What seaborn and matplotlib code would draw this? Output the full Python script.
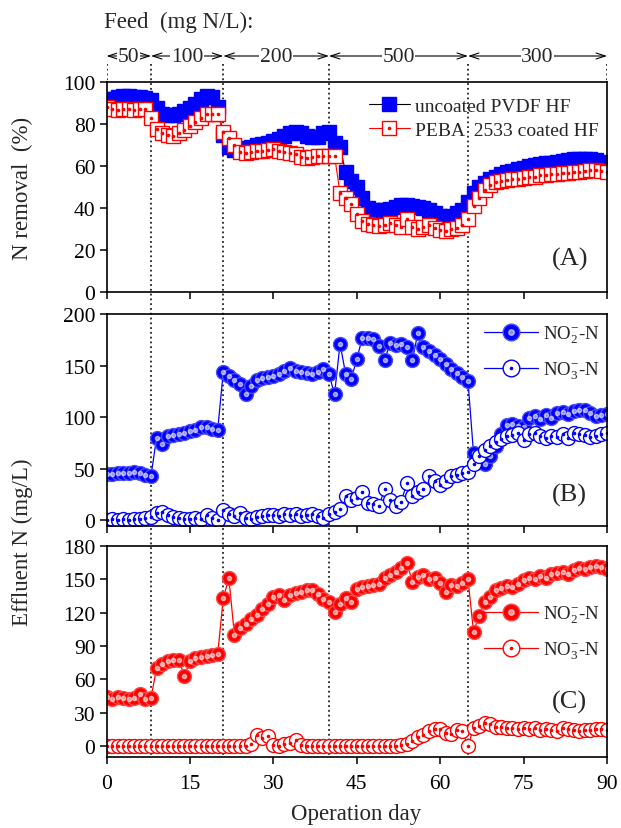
import matplotlib
matplotlib.use("Agg")
import matplotlib.pyplot as plt
import seaborn as sns
import pandas as pd
from matplotlib.lines import Line2D
from matplotlib.legend_handler import HandlerTuple

# ---------------- data ----------------
days = [0, 1, 2, 3, 4, 5, 6, 7, 8, 9,
        10, 11, 12, 13, 14, 15, 16, 17, 18, 19,
        20, 21, 22, 23, 24, 25, 26, 27, 28, 29,
        30, 31, 32, 33, 34, 35, 36, 37, 38, 39,
        40, 41, 42, 43, 44, 45, 46, 47, 48, 49,
        50, 51, 52, 53, 54, 55, 56, 57, 58, 59,
        60, 61, 62, 63, 64, 65, 66, 67, 68, 69,
        70, 71, 72, 73, 74, 75, 76, 77, 78, 79,
        80, 81, 82, 83, 84, 85, 86, 87, 88, 89, 90]

removal_uncoated = [92, 92, 93, 93.5, 93.5, 93, 93, 92.5, 91.5, 87.5,
                    85, 84.5, 84.5, 85, 86, 87.5, 89.5, 92, 93.5, 93,
                    88, 75, 69, 67.5, 68, 68.5, 69, 70, 70.5, 71,
                    72, 73, 74.5, 75.5, 76, 75.5, 74.5, 74, 74, 75.5,
                    76, 71, 69, 57, 53, 50, 45, 40, 39, 39,
                    39, 39.5, 40.5, 41.5, 41.5, 41, 40.5, 40, 39, 37.5,
                    36, 35.5, 36, 37.5, 39, 43, 47, 50, 52, 54,
                    55, 56, 57, 57.5, 58.5, 59, 60, 60.5, 61, 61.5,
                    61.5, 62, 62.5, 63, 63.5, 63.5, 63.5, 63.5, 63, 62, 60.5]

removal_coated = [88, 87, 86.5, 87, 87, 86.5, 87, 87, 83, 77.5,
                  75.5, 75, 74.5, 75.5, 77, 79, 81, 83, 85, 85,
                  85, 76, 73.5, 70, 66.5, 66, 66.5, 67, 67, 67.5,
                  68, 67, 66.5, 66, 65.5, 64.5, 64, 64.5, 65, 65,
                  65, 65, 47, 45, 42, 37, 34, 32.5, 32, 31.5,
                  32, 33, 32, 31, 35, 31, 30, 31, 32, 30.5,
                  29.5, 29, 30, 30.5, 32, 35, 41, 45, 48.5, 51,
                  52.5, 53, 53.5, 54, 54, 54.5, 55, 55, 55.5, 55.5,
                  56, 56, 56.5, 56.5, 57, 57, 57.5, 58, 58, 57.5, 57]

uncoated_no2 = [45, 45, 46, 46, 46, 47, 46, 44, 43, 80,
                74, 82, 83, 84, 85, 87, 88, 90, 90, 89,
                88, 144, 140, 136, 132, 122, 130, 136, 138, 139,
                140, 142, 145, 148, 145, 144, 143, 142, 144, 147,
                142, 122, 171, 142, 137, 156, 177, 177, 176, 169,
                155, 172, 170, 171, 168, 155, 182, 168, 164, 160,
                156, 152, 147, 143, 139, 135, 65, 58, 55, 62,
                72, 84, 92, 93, 91, 90, 99, 101, 98, 102,
                99, 104, 105, 103, 106, 107, 107, 104, 101, 102, 103]

uncoated_no3 = [0, 1, 0, 1, 0, 1, 1, 2, 3, 7,
                8, 5, 3, 2, 1, 1, 2, 1, 5, 2,
                0, 10, 6, 4, 7, 2, 1, 3, 4, 5,
                5, 4, 6, 5, 6, 4, 5, 6, 4, 2,
                6, 8, 11, 24, 20, 22, 27, 17, 16, 14,
                30, 20, 14, 18, 36, 24, 27, 30, 43, 38,
                34, 38, 43, 44, 46, 47, 55, 62, 68, 72,
                76, 79, 82, 83, 85, 78, 84, 85, 82, 80,
                82, 81, 84, 80, 85, 84, 83, 81, 82, 84, 85]

coated_no2 = [44, 42, 44, 43, 42, 43, 47, 42, 43, 70,
              74, 76, 77, 77, 63, 76, 79, 80, 81, 82,
              83, 133, 151, 100, 106, 110, 114, 118, 123, 128,
              134, 136, 131, 136, 138, 139, 140, 140, 137, 132,
              130, 121, 128, 133, 130, 141, 143, 144, 145, 146,
              151, 154, 157, 160, 165, 148, 152, 154, 150, 151,
              147, 139, 145, 144, 147, 150, 103, 117, 130, 134,
              140, 142, 144, 143, 146, 149, 151, 150, 153, 151,
              155, 156, 157, 155, 158, 160, 159, 161, 162, 161, 159]

coated_no3 = [0, 0, 0, 0, 0, 0, 0, 0, 0, 0,
              0, 0, 0, 0, 0, 0, 0, 0, 0, 0,
              0, 0, 0, 0, 0, 0, 2, 10, 7, 9,
              1, 0, 2, 3, 5, 1, 0, 0, 0, 0,
              0, 0, 0, 0, 0, 0, 0, 0, 0, 0,
              0, 0, 0, 1, 2, 4, 8, 10, 13, 15,
              15, 12, 11, 14, 13, 0, 16, 18, 21, 20,
              17, 17, 16, 16, 15, 16, 15, 16, 14, 15,
              14, 13, 16, 15, 14, 13, 14, 14, 15, 15, 14]

feed_bounds = [0, 8, 21, 40, 65, 90]
feed_labels = ["50", "100", "200", "500", "300"]
x_ticks = [0, 15, 30, 45, 60, 75, 90]

# ---------------- style ----------------
sns.set_theme(style="ticks")
plt.rcParams["font.family"] = ["Liberation Serif", "DejaVu Serif"]
plt.rcParams["mathtext.fontset"] = "custom"
plt.rcParams["mathtext.rm"] = "Liberation Serif"
plt.rcParams["mathtext.it"] = "Liberation Serif:italic"
plt.rcParams["axes.linewidth"] = 1.2
plt.rcParams["axes.edgecolor"] = "black"

BLUE = "#0000ff"
RED = "#ff0000"

W, H = 621, 829
fig = plt.figure(figsize=(W / 100, H / 100), dpi=100)

def fx(px):
    return px / W

def fy(py):
    return 1 - py / H

L, R = 106.5, 607

# overlay axes for separators & header (drawn below panels)
over = fig.add_axes([fx(L), 0, fx(R) - fx(L), 1], zorder=0)
over.set_xlim(0, 90)
over.set_ylim(H, 0)
over.axis("off")

over.vlines(feed_bounds[1:-1], 65, 758, colors="#222222", linestyles=":", linewidth=1.3)
over.vlines([feed_bounds[0], feed_bounds[-1]], 65, 83, colors="#222222", linestyles=":", linewidth=1.3)

for i, lab in enumerate(feed_labels):
    a, b = feed_bounds[i], feed_bounds[i + 1]
    over.annotate("", xy=(a, 57), xytext=(b, 57),
                  arrowprops=dict(arrowstyle="<->,head_length=0.55,head_width=0.18",
                                  lw=0.8, color="black", shrinkA=0, shrinkB=0))
    over.text((a + b) / 2, 57, lab, ha="center", va="center", fontsize=15.5,
              bbox=dict(facecolor="white", edgecolor="none", pad=0.5))

over.text(-0.45, 22, "Feed  (mg N/L):", ha="left", va="center", fontsize=16.5)

panels = [(83, 293), (315, 527), (547, 758)]
axes = []
for top, bot in panels:
    ax = fig.add_axes([fx(L), fy(bot), fx(R) - fx(L), (bot - top) / H], zorder=1)
    ax.set_facecolor("none")
    axes.append(ax)

axA, axB, axC = axes

def line(ax, y, color, marker, ms, mfc, mec, lc=None, lw=0.8, mew=1.0):
    sns.lineplot(x=days, y=y, ax=ax, color=lc or color, linewidth=lw,
                 marker=marker, markersize=ms, markerfacecolor=mfc,
                 markeredgecolor=mec, markeredgewidth=mew,
                 estimator=None, sort=False, legend=False)

def center_dot(ax, y, color, ms=1.6):
    ax.plot(days, y, linestyle="none", marker="o", markersize=ms, color=color)

SQ = 9.5
CI = 10

# ----- panel A -----
line(axA, removal_uncoated, BLUE, "s", SQ, BLUE, BLUE, lc="black", lw=0.8)
line(axA, removal_coated, RED, "s", SQ, "white", RED, lw=0.8, mew=1.0)
center_dot(axA, removal_coated, RED)
axA.set_ylim(0, 100)
axA.set_yticks([0, 20, 40, 60, 80, 100])

tup = {tuple: HandlerTuple(ndivide=1, pad=0)}

hA1 = Line2D([], [], color="black", lw=0.8, marker="s", ms=SQ, mfc=BLUE, mec=BLUE)
hA2 = Line2D([], [], color=RED, lw=0.8, marker="s", ms=SQ, mfc="white", mec=RED)
hA2d = Line2D([], [], color=RED, ls="none", marker="o", ms=1.6)
axA.legend([hA1, (hA2, hA2d)], ["uncoated PVDF HF", "PEBA  2533 coated HF"],
           handler_map=tup,
           loc="upper right", bbox_to_anchor=(1.0, 0.965), frameon=False,
           fontsize=14, handlelength=2.1, handletextpad=0.3, labelspacing=0.35,
           borderpad=0.2, borderaxespad=0.2)
axA.text(0.927, 0.16, "(A)", transform=axA.transAxes, ha="center", va="center", fontsize=19)

# ----- panel B -----
line(axB, uncoated_no2, BLUE, "o", CI, BLUE, "#4a4aff", lw=0.9)
axB.plot(days, uncoated_no2, ls="none", marker="o", ms=3, color="white", alpha=0.55)
line(axB, uncoated_no3, BLUE, "o", CI, "white", BLUE, lw=0.9)
center_dot(axB, uncoated_no3, BLUE)
axB.set_ylim(-5.5, 200)
axB.set_yticks([0, 50, 100, 150, 200])

hB1 = Line2D([], [], color=BLUE, lw=0.9, marker="o", ms=12, mfc=BLUE, mec="#4a4aff")
hB1h = Line2D([], [], ls="none", marker="o", ms=4, color="white", alpha=0.55)
hB2 = Line2D([], [], color=BLUE, lw=0.9, marker="o", ms=12, mfc="white", mec=BLUE)
hB2d = Line2D([], [], ls="none", marker="o", ms=1.6, color=BLUE)
axB.legend([(hB1, hB1h), (hB2, hB2d)], ["NO$_2^{-}$-N", "NO$_3^{-}$-N"],
           handler_map=tup,
           loc="upper right", bbox_to_anchor=(1.0, 0.99), frameon=False,
           fontsize=13.5, handlelength=2.9, handletextpad=0.25, labelspacing=0.75,
           borderpad=0.2, borderaxespad=0.2)
axB.text(0.925, 0.15, "(B)", transform=axB.transAxes, ha="center", va="center", fontsize=19)

# ----- panel C -----
line(axC, coated_no2, RED, "o", CI, RED, "#ff4a4a", lw=0.9)
axC.plot(days, coated_no2, ls="none", marker="o", ms=3, color="white", alpha=0.55)
line(axC, coated_no3, RED, "o", CI, "white", RED, lw=0.9)
center_dot(axC, coated_no3, RED)
axC.set_ylim(-10, 180)
axC.set_yticks([0, 30, 60, 90, 120, 150, 180])

hC1 = Line2D([], [], color=RED, lw=0.9, marker="o", ms=12, mfc=RED, mec="#ff4a4a")
hC1h = Line2D([], [], ls="none", marker="o", ms=4, color="white", alpha=0.55)
hC2 = Line2D([], [], color=RED, lw=0.9, marker="o", ms=12, mfc="white", mec=RED)
hC2d = Line2D([], [], ls="none", marker="o", ms=1.6, color=RED)
axC.legend([(hC1, hC1h), (hC2, hC2d)], ["NO$_2^{-}$-N", "NO$_3^{-}$-N"],
           handler_map=tup,
           loc="center right", bbox_to_anchor=(1.0, 0.59), frameon=False,
           fontsize=13.5, handlelength=2.9, handletextpad=0.25, labelspacing=0.75,
           borderpad=0.2, borderaxespad=0.2)
axC.text(0.925, 0.265, "(C)", transform=axC.transAxes, ha="center", va="center", fontsize=19)

for i, ax in enumerate(axes):
    ax.set_xlim(0, 90)
    ax.set_xticks(x_ticks)
    ax.set_xlabel("")
    ax.set_ylabel("")
    for s in ax.spines.values():
        s.set_visible(True)
        s.set_linewidth(1.2)
        s.set_color("black")
    ax.tick_params(axis="both", which="major", direction="out", length=5, width=1.1,
                   labelsize=15.5, colors="black", top=False, right=False)
    ax.tick_params(axis="y", pad=3)
    ax.tick_params(axis="x", pad=7)
    if i < 2:
        ax.tick_params(axis="x", labelbottom=False)

fig.text(fx(22), fy(188), "N removal  (%)", rotation=90, ha="center", va="center", fontsize=16.5)
fig.text(fx(22), fy(542), "Effluent N (mg/L)", rotation=90, ha="center", va="center", fontsize=16.5)
fig.text(fx(356), fy(815), "Operation day", ha="center", va="center", fontsize=16.5)

fig.savefig("out.png", dpi=100)
